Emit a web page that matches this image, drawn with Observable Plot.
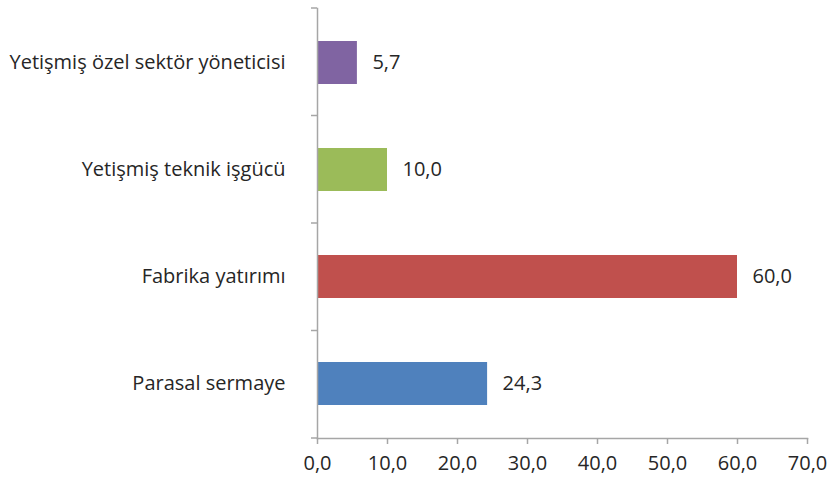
<!DOCTYPE html>
<html><head><meta charset="utf-8">
<script src="https://cdn.jsdelivr.net/npm/d3@7"></script>
<script src="https://cdn.jsdelivr.net/npm/@observablehq/plot@0.6"></script>
<style>
body{margin:0;background:#fff;}
#chart svg{display:block;}
</style>
</head><body><div id="chart"></div>
<script>
const categories = ["Yetişmiş özel sektör yöneticisi", "Yetişmiş teknik işgücü", "Fabrika yatırımı", "Parasal sermaye"];
const values = [5.7, 10.0, 60.0, 24.3];
const colors = ["#8064a2", "#9bbb59", "#c0504d", "#4f81bd"];
const xTicks = [0, 10, 20, 30, 40, 50, 60, 70];

const data = categories.map((c, i) => ({category: c, value: values[i], color: colors[i]}));
const fmt = d => d.toFixed(1).replace(".", ",");
const axisColor = "#a6a6a6";
const textColor = "#262626";
const font = "'Open Sans', sans-serif";
const fs = 20;

function boundaryTicks(index, scales, values, dims) {
  const g = d3.create("svg:g");
  const x0 = scales.x(0);
  const top = dims.marginTop, bottom = dims.height - dims.marginBottom;
  const n = categories.length;
  for (let k = 0; k <= n; k++) {
    const yy = top + (bottom - top) * k / n;
    g.append("line").attr("x1", x0 - 6).attr("x2", x0).attr("y1", yy).attr("y2", yy)
      .attr("stroke", axisColor).attr("stroke-width", 1.5);
  }
  return g.node();
}

const chart = Plot.plot({
  width: 828,
  height: 486,
  marginLeft: 317,
  marginRight: 21,
  marginTop: 8,
  marginBottom: 48,
  style: {fontFamily: font, fontSize: fs + "px", color: textColor, background: "#fff"},
  x: {domain: [0, 70]},
  y: {domain: categories, paddingInner: 0.6, paddingOuter: 0.3},
  marks: [
    Plot.barX(data, {x: "value", y: "category", fill: "color"}),
    Plot.text(data, {x: "value", y: "category", text: d => fmt(d.value), textAnchor: "start", dx: 15, fill: textColor, fontSize: fs}),
    Plot.frame({anchor: "left", stroke: axisColor, strokeWidth: 1.5}),
    Plot.frame({anchor: "bottom", stroke: axisColor, strokeWidth: 1.5}),
    boundaryTicks,
    Plot.axisX({ticks: xTicks, tickFormat: fmt, tickSize: 6, tickPadding: 11, stroke: axisColor, strokeWidth: 1.5, fill: textColor, fontSize: fs, label: null}),
    Plot.axisY({tickSize: 0, tickPadding: 32, fill: textColor, fontSize: fs, label: null})
  ]
});
document.getElementById("chart").appendChild(chart);
</script>
</body></html>
